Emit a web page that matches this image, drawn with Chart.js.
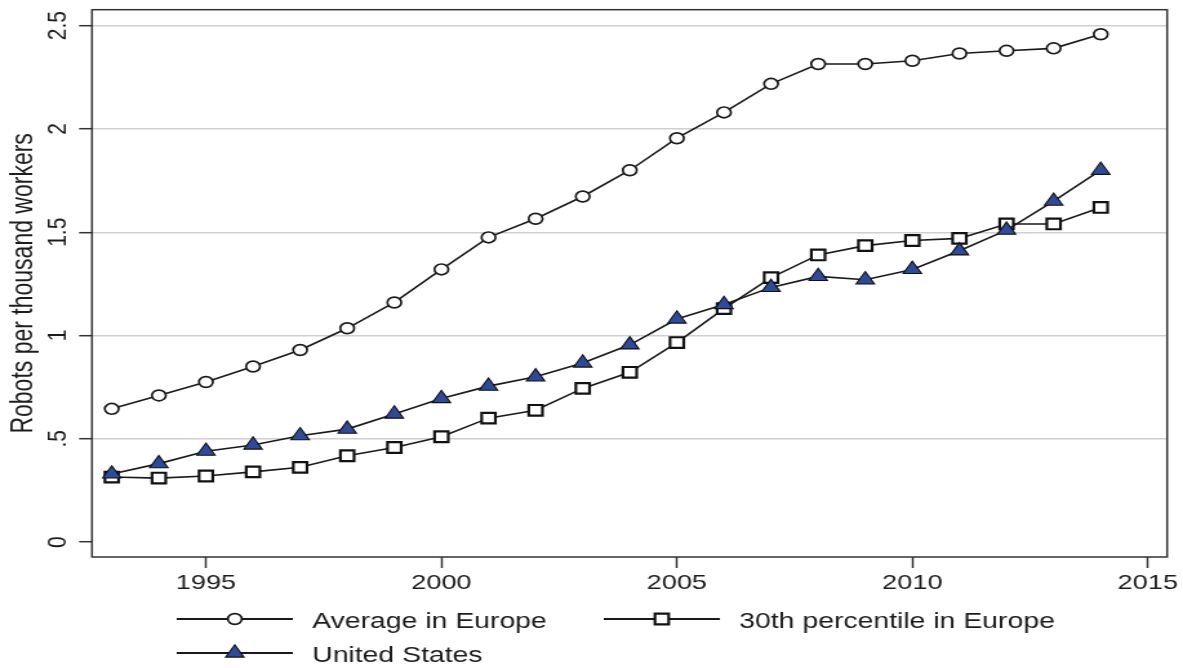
<!DOCTYPE html>
<html>
<head>
<meta charset="utf-8">
<title>Robots per thousand workers</title>
<script src="https://cdn.jsdelivr.net/npm/chart.js@4.4.1/dist/chart.umd.min.js"></script>
<style>
  html, body { margin: 0; padding: 0; background: #fff; }
</style>
</head>
<body>
<!-- drawn narrower and stretched wide, like the original graph -->
<canvas id="myChart" width="917" height="668" style="display:block;width:1183px;height:668px"></canvas>
<script>
const years = [1993, 1994, 1995, 1996, 1997, 1998, 1999, 2000, 2001, 2002, 2003,
               2004, 2005, 2006, 2007, 2008, 2009, 2010, 2011, 2012, 2013, 2014];
const avgEurope = [0.645, 0.71, 0.775, 0.85, 0.93, 1.035, 1.16, 1.32, 1.475, 1.565, 1.673,
                   1.80, 1.955, 2.08, 2.218, 2.314, 2.314, 2.33, 2.365, 2.378, 2.39, 2.458];
const pct30Europe = [0.315, 0.31, 0.32, 0.34, 0.362, 0.418, 0.458, 0.51, 0.60, 0.638, 0.744,
                     0.822, 0.966, 1.13, 1.28, 1.39, 1.435, 1.46, 1.47, 1.54, 1.54, 1.62];
const unitedStates = [0.33, 0.38, 0.44, 0.47, 0.515, 0.547, 0.62, 0.695, 0.755, 0.80, 0.867,
                      0.955, 1.08, 1.15, 1.233, 1.286, 1.27, 1.32, 1.41, 1.51, 1.65, 1.80];
const seriesNames = ['Average in Europe', '30th percentile in Europe', 'United States'];
const yearTicks = [1995, 2000, 2005, 2010, 2015];
const valueTicks = [0, 0.5, 1, 1.5, 2, 2.5];
const valueTickLabels = ['0', '.5', '1', '1.5', '2', '2.5'];

const FONT = '"Liberation Sans", Arial, sans-serif';
const INK = '#1a1a1a';

function points(values) {
    return years.map((yr, i) => ({ x: yr, y: values[i] }));
}

// frame, turned y labels and the stata-like legend (2 columns)
const extras = {
    id: 'extras',
    afterDraw(chart) {
        const ctx = chart.ctx;
        const area = chart.chartArea;
        const yScale = chart.scales.y;
        ctx.save();

        ctx.strokeStyle = '#333';
        ctx.lineWidth = 1.5;
        ctx.strokeRect(area.left, area.top, area.right - area.left, area.bottom - area.top);

        ctx.fillStyle = '#1c1c1c';
        ctx.font = '21px ' + FONT;
        ctx.textAlign = 'center';
        ctx.textBaseline = 'alphabetic';
        valueTicks.forEach((v, i) => {
            ctx.save();
            ctx.translate(50.5, yScale.getPixelForValue(v));
            ctx.rotate(-Math.PI / 2);
            ctx.fillText(valueTickLabels[i], 0, 0);
            ctx.restore();
        });

        const slots = [[137, 619, 628], [468, 619, 628], [137, 653, 662]];
        ctx.font = '22px ' + FONT;
        ctx.textAlign = 'left';
        chart.data.datasets.forEach((ds, i) => {
            const [x0, ly, ty] = slots[i];
            ctx.strokeStyle = INK;
            ctx.lineWidth = 1.8;
            ctx.beginPath();
            ctx.moveTo(x0, ly);
            ctx.lineTo(x0 + 90, ly);
            ctx.stroke();

            ctx.fillStyle = ds.pointBackgroundColor;
            ctx.strokeStyle = ds.pointBorderColor;
            ctx.lineWidth = ds.pointBorderWidth;
            Chart.helpers.drawPoint(ctx, {
                pointStyle: ds.pointStyle,
                radius: ds.pointRadius,
                borderWidth: ds.pointBorderWidth,
                rotation: 0
            }, x0 + 45, ly);

            ctx.fillStyle = '#1c1c1c';
            ctx.fillText(ds.label, x0 + 105, ty);
        });
        ctx.restore();
    }
};

var canvas = document.getElementById('myChart');
var ctx = canvas.getContext('2d');

var chart = new Chart(ctx, {
    type: 'line',
    data: {
        datasets: [{
            label: seriesNames[0],
            data: points(avgEurope),
            borderColor: INK,
            borderWidth: 1.6,
            pointStyle: 'circle',
            pointRadius: 5.4,
            pointBorderWidth: 1.7,
            pointBackgroundColor: '#fff',
            pointBorderColor: INK,
            order: 2
        }, {
            label: seriesNames[1],
            data: points(pct30Europe),
            borderColor: INK,
            borderWidth: 1.6,
            pointStyle: 'rect',
            pointRadius: 7.5,
            pointBorderWidth: 2.2,
            pointBackgroundColor: '#fff',
            pointBorderColor: '#111',
            order: 1
        }, {
            label: seriesNames[2],
            data: points(unitedStates),
            borderColor: INK,
            borderWidth: 1.6,
            pointStyle: 'triangle',
            pointRadius: 8.2,
            pointBorderWidth: 1.1,
            pointBackgroundColor: '#2e4a9c',
            pointBorderColor: '#111',
            order: 0
        }]
    },
    options: {
        responsive: false,
        devicePixelRatio: 1,
        animation: false,
        layout: { padding: { left: 0, right: 12.3, top: 6.5, bottom: 0 } },
        elements: { line: { tension: 0 } },
        plugins: {
            legend: { display: false },
            tooltip: { enabled: false }
        },
        scales: {
            x: {
                type: 'linear',
                min: 1992.58,
                max: 2015.41,
                afterBuildTicks: (s) => { s.ticks = yearTicks.map(v => ({ value: v })); },
                afterFit: (s) => { s.height = 111; },
                border: { display: false },
                grid: {
                    drawOnChartArea: false,
                    drawTicks: true,
                    tickLength: 11,
                    tickColor: '#333',
                    tickWidth: 1.5
                },
                ticks: {
                    padding: 3,
                    color: '#1c1c1c',
                    autoSkip: false,
                    maxRotation: 0,
                    font: { family: FONT, size: 21 },
                    callback: (v) => String(v)
                }
            },
            y: {
                min: -0.072,
                max: 2.577,
                afterBuildTicks: (s) => { s.ticks = valueTicks.map(v => ({ value: v })); },
                afterFit: (s) => { s.width = 71.3; },
                border: { display: false },
                grid: {
                    color: (c) => (c.tick && c.tick.value === 0) ? 'rgba(0,0,0,0)' : '#cfcfcf',
                    lineWidth: 1.4,
                    tickColor: '#333',
                    tickLength: 10,
                    tickWidth: 1.5
                },
                ticks: { display: false },
                title: {
                    display: true,
                    text: 'Robots per thousand workers',
                    color: '#1c1c1c',
                    font: { family: FONT, size: 23 },
                    padding: { top: 5, bottom: 0 }
                }
            }
        }
    },
    plugins: [extras]
});
</script>
</body>
</html>
